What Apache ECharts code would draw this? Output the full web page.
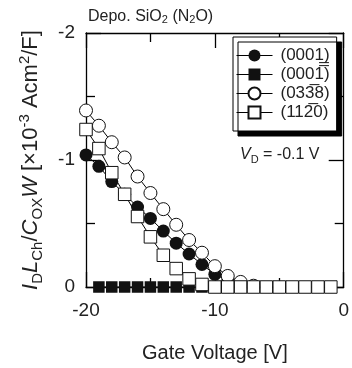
<!DOCTYPE html>
<html>
<head>
<meta charset="utf-8">
<script src="https://cdn.jsdelivr.net/npm/echarts@6/dist/echarts.min.js"></script>
<style>
html,body{margin:0;padding:0;background:#fff;}
#chart{width:352px;height:368px;}
</style>
</head>
<body>
<div id="chart"></div>
<script>
// Gate voltage values (V)
var voltsCircles = [-20,-19,-18,-17,-16,-15,-14,-13,-12,-11,-10,-9,-8,-7];
var voltsOpenSquares = [-20,-19,-18,-17,-16,-15,-14,-13,-12,-11,-10,-9,-8,-7,-6,-5,-4,-3,-2,-1];
var voltsFilledSquares = [-19,-18,-17,-16,-15,-14,-13,-12,-11,-10];

// Normalized drain current values (x10^-3 Acm^2/F)
var valsFilledCircle = [-1.04,-0.95,-0.83,-0.73,-0.63,-0.54,-0.44,-0.345,-0.26,-0.177,-0.10,-0.05,-0.022,-0.005];
var valsFilledSquare = [0,0,0,0,0,0,0,0,0,0];
var valsOpenCircle = [-1.39,-1.27,-1.14,-1.02,-0.87,-0.74,-0.613,-0.49,-0.37,-0.27,-0.164,-0.087,-0.04,-0.01];
var valsOpenSquare = [-1.24,-1.09,-0.90,-0.73,-0.555,-0.395,-0.25,-0.145,-0.064,-0.02,0,0,0,0,0,0,0,0,0,0];

// Legend labels (Miller-Bravais indices with bars)
var seriesNames = ['(0001\u0332)', '(0001\u0305)', '(033\u03058)', '(112\u03050)'];

function pairs(xs, ys){ return xs.map(function(x,i){ return [x, ys[i]]; }); }

var FONT = 'Liberation Sans, Arial, sans-serif';
var chart = echarts.init(document.getElementById('chart'), null, {renderer:'canvas'});

function mkSeries(name, xs, ys, symbol, filled, size){
  return {
    name: name, type: 'line', data: pairs(xs, ys),
    symbol: symbol, symbolSize: size, showSymbol: true,
    lineStyle: {color:'#000', width: 1},
    itemStyle: filled ? {color:'#111', borderColor:'#111', borderWidth:0}
                      : {color:'#fff', borderColor:'#111', borderWidth:1},
    emphasis: {disabled: true},
    animation: false
  };
}

var tickCommon = {
  axisLine: {show:true, onZero:false, lineStyle:{color:'#000', width:1.3}},
  axisTick: {show:true, inside:true, length:15, lineStyle:{color:'#000', width:1.3}},
  minorTick: {show:true, splitNumber:2, length:9, lineStyle:{color:'#000', width:1.3}},
  splitLine: {show:false}
};

var option = {
  animation: false,
  backgroundColor: '#fff',
  grid: {left:86, right:7, top:33, bottom:75, containLabel:false},
  xAxis: [
    Object.assign({
      type:'value', min:-20, max:0, interval:10, position:'bottom',
      name:'Gate Voltage [V]', nameLocation:'middle', nameGap:56,
      nameTextStyle:{fontFamily:FONT, fontSize:20, color:'#222'},
      axisLabel:{fontFamily:FONT, fontSize:19, color:'#222', margin:14}
    }, tickCommon),
    Object.assign({
      type:'value', min:-20, max:0, interval:10, position:'top',
      axisLabel:{show:false}
    }, tickCommon)
  ],
  yAxis: [
    Object.assign({
      type:'value', min:-2, max:0, interval:1, inverse:true, position:'left',
      name:'{it|I}{sub|D}{it|L}{sub|Ch}{n|/}{it|C}{sub|OX}{it|W}{n| [\u00d710}{sup|-3}{n| Acm}{sup|2}{n|/F]}',
      nameLocation:'middle', nameGap:41, nameRotate:90,
      nameTextStyle:{
        fontFamily:FONT, fontSize:22, color:'#222',
        rich:{
          it:{fontFamily:FONT, fontSize:22, fontStyle:'italic', color:'#222', lineHeight:28},
          n:{fontFamily:FONT, fontSize:22, color:'#222', lineHeight:28},
          sub:{fontFamily:FONT, fontSize:15, color:'#222', lineHeight:14, verticalAlign:'bottom'},
          sup:{fontFamily:FONT, fontSize:15, color:'#222', lineHeight:14, verticalAlign:'top'}
        }
      },
      axisLabel:{fontFamily:FONT, fontSize:19, color:'#222', margin:11}
    }, tickCommon),
    Object.assign({
      type:'value', min:-2, max:0, interval:1, inverse:true, position:'right',
      axisLabel:{show:false}
    }, tickCommon)
  ],
  legend: {
    orient:'vertical', left:233, top:37,
    padding:[10,7,10,3], itemGap:2, itemWidth:36, itemHeight:15,
    backgroundColor:'#fff', borderColor:'#000', borderWidth:1,
    shadowColor:'#000', shadowBlur:0, shadowOffsetX:5, shadowOffsetY:5,
    lineStyle:{width:1, color:'#000'},
    textStyle:{fontFamily:FONT, fontSize:17, color:'#222', padding:[0,0,0,3]},
    data: seriesNames
  },
  graphic: [
    {type:'text', left:88, top:9, style:{
      text:'Depo. SiO{s|2} (N{s|2}O)', fontFamily:FONT, fontSize:16, fill:'#222',
      rich:{ n:{fontFamily:FONT, fontSize:16}, s:{fontFamily:FONT, fontSize:11, lineHeight:10, verticalAlign:'bottom'} }
    }},
    {type:'text', left:240, top:147, style:{
      text:'{i|V}{s|D}{n| = -0.1 V}', fontFamily:FONT, fontSize:16, fill:'#222',
      rich:{ i:{fontFamily:FONT, fontSize:16, fontStyle:'italic', lineHeight:20},
             n:{fontFamily:FONT, fontSize:16, lineHeight:20},
             s:{fontFamily:FONT, fontSize:11, lineHeight:10, verticalAlign:'bottom'} }
    }}
  ],
  series: [
    mkSeries(seriesNames[0], voltsCircles, valsFilledCircle, 'circle', true, 13),
    mkSeries(seriesNames[1], voltsFilledSquares, valsFilledSquare, 'rect', true, 11.5),
    mkSeries(seriesNames[2], voltsCircles, valsOpenCircle, 'circle', false, 13),
    mkSeries(seriesNames[3], voltsOpenSquares, valsOpenSquare, 'rect', false, 12.5)
  ]
};
chart.setOption(option);
</script>
</body>
</html>
